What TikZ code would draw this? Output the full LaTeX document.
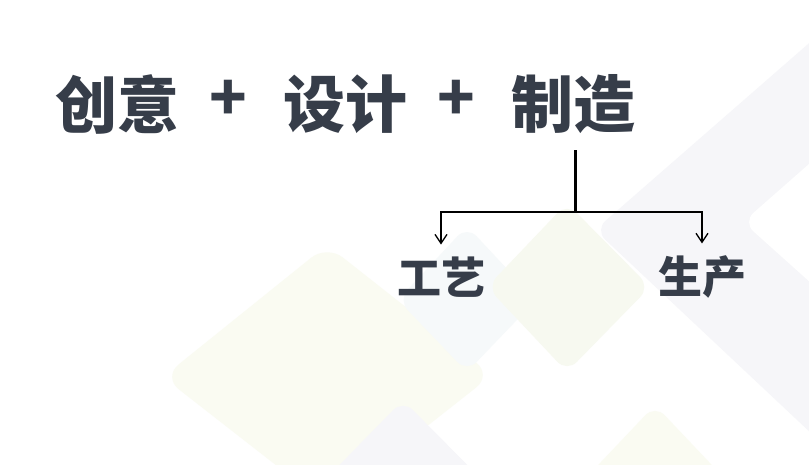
\documentclass[tikz,border=0pt]{standalone}
\usepackage{fontspec}
\newfontfamily\cjk{Noto Sans CJK SC}
\usetikzlibrary{arrows.meta}
\definecolor{ink}{RGB}{54,61,73}
\definecolor{bgyel}{RGB}{250,251,242}
\definecolor{bggrn}{RGB}{247,249,240}
\definecolor{bggray}{RGB}{246,246,249}
\definecolor{bgblue}{RGB}{246,249,250}
\tikzset{
  title/.style={font=\cjk\bfseries\fontsize{62}{62}\selectfont, text=ink, inner sep=0pt},
  sub/.style={font=\cjk\bfseries\fontsize{44}{44}\selectfont, text=ink, inner sep=0pt},
  trunk/.style={draw=black, line width=3pt},
  branch/.style={draw=black, line width=1.3pt, -{Straight Barb[length=9pt,width=12pt,line width=1.3pt]}},
  tile/.style={rounded corners=14pt, draw=none}
}
\begin{document}
\begin{tikzpicture}[x=1pt,y=-1pt]
\useasboundingbox (0,0) rectangle (809,464);
\fill[white] (0,0) rectangle (809,464);
\begin{scope}
\clip (0,0) rectangle (809,464);
% background tiles
\fill[tile, bggray] (595,230) -- (870,-10) -- (1120,230) -- (845,465) -- cycle;
\fill[tile, white] (743,222) -- (850,128) -- (955,222) -- (850,318) -- cycle;
\fill[tile, bgyel, rounded corners=20pt] (163,377) -- (327,245) -- (492,375) -- (327,505) -- cycle;
\fill[tile, bgblue] (398,300) -- (467,226) -- (536,300) -- (467,372) -- cycle;
\fill[tile, bggrn] (487,287) -- (567,203) -- (650,287) -- (567,372) -- cycle;
\fill[tile, bggray] (315,490) -- (403,400) -- (492,490) -- (403,580) -- cycle;
\fill[tile, bgyel] (565,500) -- (655,405) -- (745,500) -- (655,595) -- cycle;
\end{scope}
% title
\node[title] (cy) at (117,104) {创意};
\node[title] (p1) at (228,100) {+};
\node[title] (sj) at (345,104) {设计};
\node[title] (p2) at (456,100) {+};
\node[title] (zz) at (573,104) {制造};
% sub items
\node[sub] (gy) at (441,277) {工艺};
\node[sub] (sc) at (702,277) {生产};
% connectors
\coordinate (t) at (575,150);
\coordinate (j) at (575,212);
\draw[trunk] (t) -- (j);
\draw[branch, shorten >=12pt] (j) -| (gy.north);
\draw[branch, shorten >=12pt] (j) -| (sc.north);
\end{tikzpicture}
\end{document}
